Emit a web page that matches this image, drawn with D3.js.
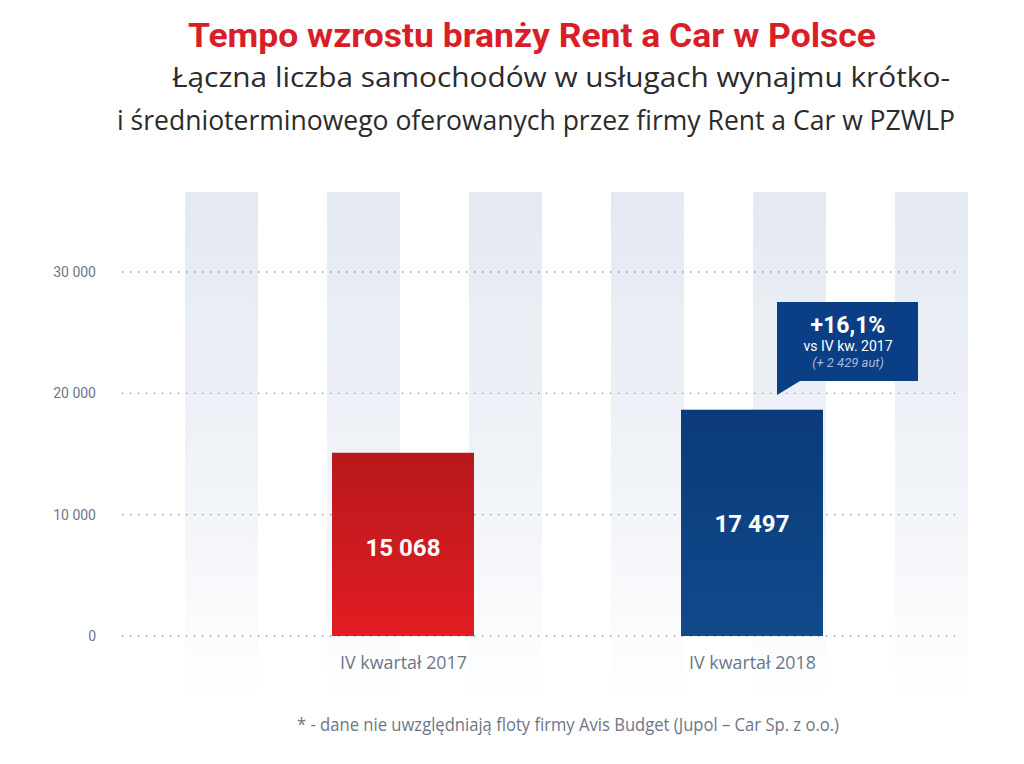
<!DOCTYPE html>
<html><head><meta charset="utf-8">
<script src="https://cdn.jsdelivr.net/npm/d3@7"></script>
<style>body{margin:0;background:#fff}svg{display:block}</style>
</head><body>
<div id="chart"></div>
<script>
// data
const categories = ['IV kwartał 2017', 'IV kwartał 2018'];
const valueLabels = ['15 068', '17 497'];
const barValues = [15100, 18650];   // bar heights as drawn in the picture
const yTicks = [0, 10000, 20000, 30000];
const stripes = [0, 1, 2, 3, 4, 5];

const W = 1024, H = 764;
const svg = d3.select('#chart').append('svg').attr('width', W).attr('height', H);
const defs = svg.append('defs');

const y = d3.scaleLinear().domain([0, 30000]).range([636, 272]);
const xs = d3.scaleLinear().domain([0, 5]).range([185, 895]);
const xb = d3.scalePoint().domain(categories).range([403, 752]);

const sg = defs.append('linearGradient').attr('id', 'sg').attr('x1', 0).attr('x2', 0).attr('y1', 0).attr('y2', 1);
sg.append('stop').attr('offset', 0).attr('stop-color', '#e4e9f2');
sg.append('stop').attr('offset', 0.6).attr('stop-color', '#f1f4f8');
sg.append('stop').attr('offset', 1).attr('stop-color', '#ffffff');
const rg = defs.append('linearGradient').attr('id', 'rg').attr('x1', 0).attr('x2', 0).attr('y1', 0).attr('y2', 1);
rg.append('stop').attr('offset', 0).attr('stop-color', '#b7181b');
rg.append('stop').attr('offset', 1).attr('stop-color', '#e21d23');
const bg = defs.append('linearGradient').attr('id', 'bg').attr('x1', 0).attr('x2', 0).attr('y1', 0).attr('y2', 1);
bg.append('stop').attr('offset', 0).attr('stop-color', '#0a3a7c');
bg.append('stop').attr('offset', 1).attr('stop-color', '#114a8a');

svg.append('g').selectAll('rect').data(stripes).join('rect')
  .attr('x', d => xs(d)).attr('y', 192).attr('width', 73).attr('height', 510)
  .attr('fill', 'url(#sg)');

// titles
const fit = (sel, x0, x1) => sel.attr('x', x0).attr('textLength', x1 - x0).attr('lengthAdjust', 'spacingAndGlyphs');
fit(svg.append('text').attr('y', 47), 188, 876)
  .attr('font-family', 'Roboto, sans-serif').attr('font-weight', 700).attr('font-size', 34)
  .attr('fill', '#d81e28').text('Tempo wzrostu branży Rent a Car w Polsce');
fit(svg.append('text').attr('y', 87), 172, 950)
  .attr('font-family', '"Open Sans", sans-serif').attr('font-size', 28)
  .attr('fill', '#2b2b2b').text('Łączna liczba samochodów w usługach wynajmu krótko-');
fit(svg.append('text').attr('y', 130), 117, 955)
  .attr('font-family', '"Open Sans", sans-serif').attr('font-size', 28)
  .attr('fill', '#2b2b2b').text('i średnioterminowego oferowanych przez firmy Rent a Car w PZWLP');

// grid
const grid = svg.append('g');
grid.selectAll('line').data(yTicks).join('line')
  .attr('x1', 122).attr('x2', 955).attr('y1', d => y(d)).attr('y2', d => y(d))
  .attr('stroke', '#8a93a3').attr('stroke-width', 1.3).attr('stroke-dasharray', '1.3,6.7');
grid.selectAll('text').data(yTicks).join('text')
  .attr('x', 96).attr('y', d => y(d) + 5).attr('text-anchor', 'end')
  .attr('font-family', 'Roboto, sans-serif').attr('font-size', 14).attr('fill', '#6d7689')
  .text(d => d3.format(',')(d).replace(/,/g, ' '));

// bars
const fills = ['url(#rg)', 'url(#bg)'];
svg.append('g').selectAll('rect').data(categories).join('rect')
  .attr('x', d => xb(d) - 71).attr('width', 142)
  .attr('y', (d, i) => y(barValues[i])).attr('height', (d, i) => y(0) - y(barValues[i]))
  .attr('fill', (d, i) => fills[i]);
svg.append('g').selectAll('text').data(categories).join('text')
  .attr('x', d => xb(d)).attr('y', (d, i) => i === 0 ? 556 : 532).attr('text-anchor', 'middle')
  .attr('font-family', 'Roboto, sans-serif').attr('font-weight', 700).attr('font-size', 24)
  .attr('fill', '#fff').text((d, i) => valueLabels[i]);
svg.append('g').selectAll('text').data(categories).join('text')
  .attr('x', d => xb(d) - 63).attr('y', 669).attr('textLength', 127).attr('lengthAdjust', 'spacingAndGlyphs')
  .attr('font-family', '"Open Sans", sans-serif')
  .attr('font-size', 18).attr('fill', '#6d7689').text(d => d);

// callout
const cx = 777, cyTop = 302;
svg.append('path')
  .attr('d', `M${cx},${cyTop} H918 V381 H800 L777,395 V${cyTop} Z`)
  .attr('fill', '#0a3f85');
svg.append('text').attr('x', 848).attr('y', 333).attr('text-anchor', 'middle')
  .attr('font-family', 'Roboto, sans-serif').attr('font-weight', 700).attr('font-size', 23)
  .attr('fill', '#fff').text('+16,1%');
svg.append('text').attr('x', 848).attr('y', 351).attr('text-anchor', 'middle')
  .attr('font-family', 'Roboto, sans-serif').attr('font-size', 14)
  .attr('fill', '#fff').text('vs IV kw. 2017');
svg.append('text').attr('x', 848).attr('y', 367).attr('text-anchor', 'middle')
  .attr('font-family', 'Roboto, sans-serif').attr('font-style', 'italic').attr('font-size', 13)
  .attr('fill', '#a9b8d6').text('(+ 2 429 aut)');

// footnote
fit(svg.append('text').attr('y', 731), 297, 839)
  .attr('font-family', '"Open Sans", sans-serif')
  .attr('font-size', 18).attr('fill', '#6d7689')
  .text('* - dane nie uwzględniają floty firmy Avis Budget (Jupol – Car Sp. z o.o.)');
</script>
</body></html>
